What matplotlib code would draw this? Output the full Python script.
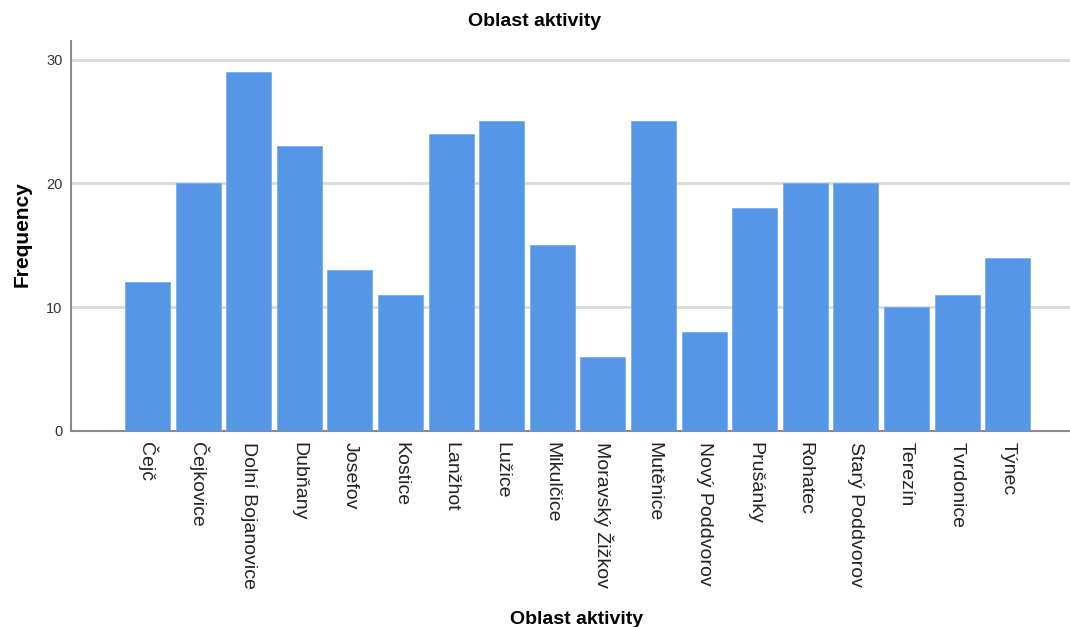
"""Sloupcový graf četností - Oblast aktivity"""

import matplotlib
matplotlib.use('Agg')
import matplotlib.pyplot as plt

plt.rcParams['font.family'] = ['Liberation Sans', 'DejaVu Sans']

# data
oblasti = ['Čejč', 'Čejkovice', 'Dolní Bojanovice', 'Dubňany', 'Josefov', 'Kostice',
           'Lanžhot', 'Lužice', 'Mikulčice', 'Moravský Žižkov', 'Mutěnice',
           'Nový Poddvorov', 'Prušánky', 'Rohatec', 'Starý Poddvorov', 'Terezín',
           'Tvrdonice', 'Týnec']
cetnosti = [12, 20, 29, 23, 13, 11, 24, 25, 15, 6, 25, 8, 18, 20, 20, 10, 11, 14]
y_ticks = [0, 10, 20, 30]

fig = plt.figure(figsize=(10.7, 6.27), dpi=100)
ax = fig.add_axes([0.0664, 0.3126, 0.9336, 0.622])

x = list(range(len(oblasti)))
ax.bar(x, cetnosti, width=0.89, color='#5596e6', edgecolor='#7aaeee',
       linewidth=0.6, zorder=3)

ax.set_xlim(-1.51, 18.23)
ax.set_ylim(0, 31.5)
ax.set_yticks(y_ticks)
ax.yaxis.grid(True, color='#dadada', linewidth=2, zorder=0)

ax.set_xticks(x)
ax.set_xticklabels(oblasti, rotation=270, fontsize=14, color='#222222',
                   ha='center', va='top')
ax.tick_params(axis='x', length=0, pad=8)
ax.tick_params(axis='y', length=0, pad=6, labelsize=10.5, labelcolor='#333333')

for side in ['top', 'right']:
    ax.spines[side].set_visible(False)
for side in ['left', 'bottom']:
    ax.spines[side].set_color('#8a8a8a')
    ax.spines[side].set_linewidth(1.5)

# popisky
fig.text(0.5, 1 - 22 / 627, 'Oblast aktivity', ha='center', va='center',
         fontsize=14, fontweight='bold')
fig.text(22 / 1070, 1 - 234 / 627, 'Frequency', ha='center', va='center',
         rotation=90, fontsize=15, fontweight='bold')
fig.text(577 / 1070, 1 - 619 / 627, 'Oblast aktivity', ha='center', va='center',
         fontsize=14, fontweight='bold')

fig.savefig('out.png', dpi=100)
